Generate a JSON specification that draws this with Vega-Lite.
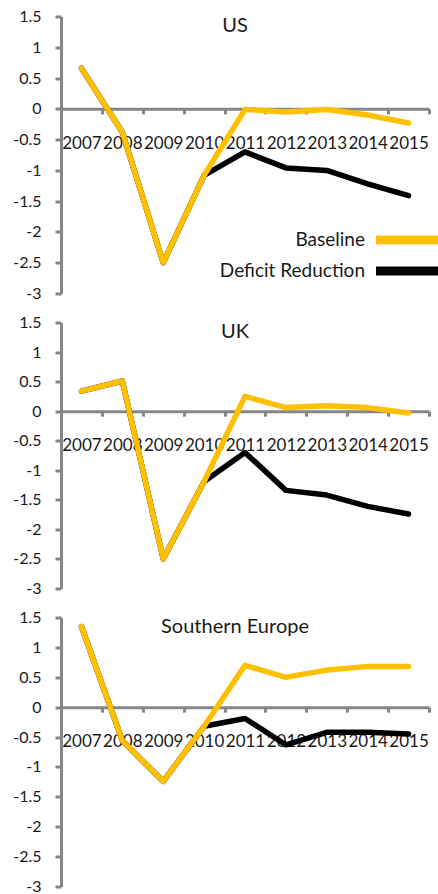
{
  "$schema": "https://vega.github.io/schema/vega-lite/v6.json",
  "autosize": {"type": "pad"},
  "padding": {"left": 12, "top": 8.5, "right": 0, "bottom": 0},
  "bounds": "flush",
  "spacing": 29,
  "config": {
    "font": "Lato",
    "view": {"stroke": null},
    "axis": {
      "domainColor": "#868686",
      "domainWidth": 3,
      "tickColor": "#868686",
      "tickWidth": 3,
      "grid": false,
      "title": null,
      "labelColor": "#1a1a1a",
      "labelFontSize": 16
    },
    "title": {"fontSize": 20, "fontWeight": "normal", "color": "#1a1a1a", "anchor": "middle", "frame": "group", "offset": -27.5, "dx": -10},
    "legend": {
      "orient": "none",
      "legendX": 334.5,
      "legendY": 211,
      "title": null,
      "padding": 0,
      "symbolType": "M-4,0H4",
      "symbolSize": 256,
      "symbolStrokeWidth": 9,
      "rowPadding": -8,
      "labelAlign": "right",
      "labelOffset": -55.5,
      "labelFontSize": 19,
      "labelColor": "#1a1a1a",
      "labelLimit": 300
    }
  },
  "datasets": {
    "d": [
      {"region": "US", "series": "Baseline", "year": 2007, "value": 0.66},
      {"region": "US", "series": "Baseline", "year": 2008, "value": -0.38},
      {"region": "US", "series": "Baseline", "year": 2009, "value": -2.5},
      {"region": "US", "series": "Baseline", "year": 2010, "value": -1.08},
      {"region": "US", "series": "Baseline", "year": 2011, "value": -0.01},
      {"region": "US", "series": "Baseline", "year": 2012, "value": -0.05},
      {"region": "US", "series": "Baseline", "year": 2013, "value": -0.01},
      {"region": "US", "series": "Baseline", "year": 2014, "value": -0.1},
      {"region": "US", "series": "Baseline", "year": 2015, "value": -0.23},
      {"region": "US", "series": "Deficit Reduction", "year": 2007, "value": 0.66},
      {"region": "US", "series": "Deficit Reduction", "year": 2008, "value": -0.38},
      {"region": "US", "series": "Deficit Reduction", "year": 2009, "value": -2.5},
      {"region": "US", "series": "Deficit Reduction", "year": 2010, "value": -1.08},
      {"region": "US", "series": "Deficit Reduction", "year": 2011, "value": -0.7},
      {"region": "US", "series": "Deficit Reduction", "year": 2012, "value": -0.96},
      {"region": "US", "series": "Deficit Reduction", "year": 2013, "value": -1.0},
      {"region": "US", "series": "Deficit Reduction", "year": 2014, "value": -1.22},
      {"region": "US", "series": "Deficit Reduction", "year": 2015, "value": -1.41},
      {"region": "UK", "series": "Baseline", "year": 2007, "value": 0.34},
      {"region": "UK", "series": "Baseline", "year": 2008, "value": 0.51},
      {"region": "UK", "series": "Baseline", "year": 2009, "value": -2.5},
      {"region": "UK", "series": "Baseline", "year": 2010, "value": -1.19},
      {"region": "UK", "series": "Baseline", "year": 2011, "value": 0.25},
      {"region": "UK", "series": "Baseline", "year": 2012, "value": 0.06},
      {"region": "UK", "series": "Baseline", "year": 2013, "value": 0.09},
      {"region": "UK", "series": "Baseline", "year": 2014, "value": 0.06},
      {"region": "UK", "series": "Baseline", "year": 2015, "value": -0.03},
      {"region": "UK", "series": "Deficit Reduction", "year": 2007, "value": 0.34},
      {"region": "UK", "series": "Deficit Reduction", "year": 2008, "value": 0.51},
      {"region": "UK", "series": "Deficit Reduction", "year": 2009, "value": -2.5},
      {"region": "UK", "series": "Deficit Reduction", "year": 2010, "value": -1.19},
      {"region": "UK", "series": "Deficit Reduction", "year": 2011, "value": -0.7},
      {"region": "UK", "series": "Deficit Reduction", "year": 2012, "value": -1.34},
      {"region": "UK", "series": "Deficit Reduction", "year": 2013, "value": -1.42},
      {"region": "UK", "series": "Deficit Reduction", "year": 2014, "value": -1.61},
      {"region": "UK", "series": "Deficit Reduction", "year": 2015, "value": -1.74},
      {"region": "Southern Europe", "series": "Baseline", "year": 2007, "value": 1.35},
      {"region": "Southern Europe", "series": "Baseline", "year": 2008, "value": -0.56},
      {"region": "Southern Europe", "series": "Baseline", "year": 2009, "value": -1.24},
      {"region": "Southern Europe", "series": "Baseline", "year": 2010, "value": -0.32},
      {"region": "Southern Europe", "series": "Baseline", "year": 2011, "value": 0.7},
      {"region": "Southern Europe", "series": "Baseline", "year": 2012, "value": 0.5},
      {"region": "Southern Europe", "series": "Baseline", "year": 2013, "value": 0.62},
      {"region": "Southern Europe", "series": "Baseline", "year": 2014, "value": 0.68},
      {"region": "Southern Europe", "series": "Baseline", "year": 2015, "value": 0.68},
      {"region": "Southern Europe", "series": "Deficit Reduction", "year": 2007, "value": 1.35},
      {"region": "Southern Europe", "series": "Deficit Reduction", "year": 2008, "value": -0.56},
      {"region": "Southern Europe", "series": "Deficit Reduction", "year": 2009, "value": -1.24},
      {"region": "Southern Europe", "series": "Deficit Reduction", "year": 2010, "value": -0.32},
      {"region": "Southern Europe", "series": "Deficit Reduction", "year": 2011, "value": -0.19},
      {"region": "Southern Europe", "series": "Deficit Reduction", "year": 2012, "value": -0.63},
      {"region": "Southern Europe", "series": "Deficit Reduction", "year": 2013, "value": -0.42},
      {"region": "Southern Europe", "series": "Deficit Reduction", "year": 2014, "value": -0.42},
      {"region": "Southern Europe", "series": "Deficit Reduction", "year": 2015, "value": -0.45}
    ]
  },
  "vconcat": [
    {
      "title": "US",
      "width": 368,
      "height": 277,
      "data": {"name": "d"},
      "transform": [{"filter": "datum.region === 'US'"}],
      "encoding": {
        "x": {"field": "year", "type": "ordinal", "bandPosition": 0.5,
              "scale": {"type": "band", "paddingInner": 0, "paddingOuter": 0},
              "axis": {"orient": "bottom", "offset": -184.67, "tickBand": "extent", "tickSize": 5, "labelPadding": 21.5, "labelFontSize": 17, "labelAngle": 0, "labelOverlap": false}},
        "y": {"field": "value", "type": "quantitative",
              "scale": {"domain": [-3, 1.5], "nice": false, "zero": false},
              "axis": {"values": [-3, -2.5, -2, -1.5, -1, -0.5, 0, 0.5, 1, 1.5], "labelExpr": "'' + datum.value", "tickSize": 6, "labelPadding": 14}},
        "color": {"field": "series", "type": "nominal", "scale": {"domain": ["Baseline", "Deficit Reduction"], "range": ["#FFC000", "#000000"]}}
      },
      "layer": [
        {"transform": [{"filter": "datum.series === 'Deficit Reduction'"}], "mark": {"type": "line", "strokeWidth": 5.5, "strokeCap": "round", "strokeJoin": "round"}},
        {"transform": [{"filter": "datum.series === 'Baseline'"}], "mark": {"type": "line", "strokeWidth": 5.5, "strokeCap": "round", "strokeJoin": "round"}}
      ]
    },
    {
      "title": "UK",
      "width": 368,
      "height": 266,
      "data": {"name": "d"},
      "transform": [{"filter": "datum.region === 'UK'"}],
      "encoding": {
        "x": {"field": "year", "type": "ordinal", "bandPosition": 0.5,
              "scale": {"type": "band", "paddingInner": 0, "paddingOuter": 0},
              "axis": {"orient": "bottom", "offset": -177.33, "tickBand": "extent", "tickSize": 5, "labelPadding": 21.5, "labelFontSize": 17, "labelAngle": 0, "labelOverlap": false}},
        "y": {"field": "value", "type": "quantitative",
              "scale": {"domain": [-3, 1.5], "nice": false, "zero": false},
              "axis": {"values": [-3, -2.5, -2, -1.5, -1, -0.5, 0, 0.5, 1, 1.5], "labelExpr": "'' + datum.value", "tickSize": 6, "labelPadding": 14}},
        "color": {"field": "series", "type": "nominal", "scale": {"domain": ["Baseline", "Deficit Reduction"], "range": ["#FFC000", "#000000"]}}
      },
      "layer": [
        {"transform": [{"filter": "datum.series === 'Deficit Reduction'"}], "mark": {"type": "line", "strokeWidth": 5.5, "strokeCap": "round", "strokeJoin": "round"}},
        {"transform": [{"filter": "datum.series === 'Baseline'"}], "mark": {"type": "line", "strokeWidth": 5.5, "strokeCap": "round", "strokeJoin": "round"}}
      ]
    },
    {
      "title": "Southern Europe",
      "width": 368,
      "height": 269,
      "data": {"name": "d"},
      "transform": [{"filter": "datum.region === 'Southern Europe'"}],
      "encoding": {
        "x": {"field": "year", "type": "ordinal", "bandPosition": 0.5,
              "scale": {"type": "band", "paddingInner": 0, "paddingOuter": 0},
              "axis": {"orient": "bottom", "offset": -179.33, "tickBand": "extent", "tickSize": 5, "labelPadding": 21.5, "labelFontSize": 17, "labelAngle": 0, "labelOverlap": false}},
        "y": {"field": "value", "type": "quantitative",
              "scale": {"domain": [-3, 1.5], "nice": false, "zero": false},
              "axis": {"values": [-3, -2.5, -2, -1.5, -1, -0.5, 0, 0.5, 1, 1.5], "labelExpr": "'' + datum.value", "tickSize": 6, "labelPadding": 14}},
        "color": {"field": "series", "type": "nominal", "scale": {"domain": ["Baseline", "Deficit Reduction"], "range": ["#FFC000", "#000000"]}}
      },
      "layer": [
        {"transform": [{"filter": "datum.series === 'Deficit Reduction'"}], "mark": {"type": "line", "strokeWidth": 5.5, "strokeCap": "round", "strokeJoin": "round"}},
        {"transform": [{"filter": "datum.series === 'Baseline'"}], "mark": {"type": "line", "strokeWidth": 5.5, "strokeCap": "round", "strokeJoin": "round"}}
      ]
    }
  ]
}
